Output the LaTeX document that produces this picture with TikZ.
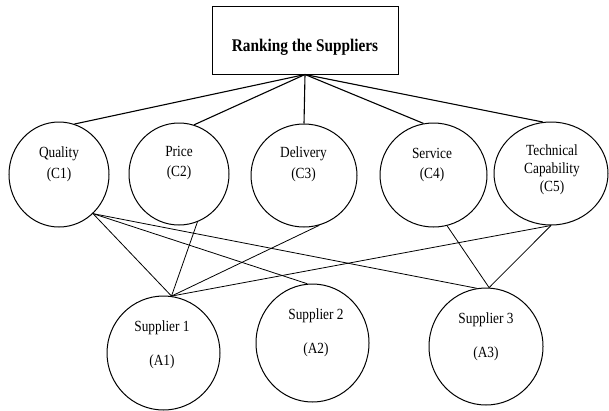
\documentclass[tikz,border=0pt]{standalone}
\usepackage{fontspec}
\setmainfont{Liberation Serif}[FakeStretch=0.86]
\usetikzlibrary{shapes.geometric}

\begin{document}
\begin{tikzpicture}[x=1pt, y=-1pt,
    crit/.style={ellipse, draw, line width=1pt, inner sep=0pt},
    lbl/.style={font=\fontsize{15.5}{18}\selectfont, align=center, inner sep=0pt},
    toplink/.style={line width=1.1pt},
    link/.style={line width=0.8pt}]
    \useasboundingbox (0,0) rectangle (609,410);

    % Goal
    \node[draw, line width=1pt, minimum width=186pt, minimum height=68pt] (goal) at (305,40) {};
    \node[font=\fontsize{17.8}{20}\selectfont\bfseries, inner sep=0pt] (goaltxt) at (305,47) {Ranking the Suppliers};

    % Criteria
    \node[crit, minimum width=100pt, minimum height=105pt] (c1) at (59,174.5) {};
    \node[crit, minimum width=100pt, minimum height=102pt] (c2) at (179,174) {};
    \node[crit, minimum width=106pt, minimum height=103pt] (c3) at (304,175.5) {};
    \node[crit, minimum width=107pt, minimum height=104pt] (c4) at (433.5,175) {};
    \node[crit, minimum width=114pt, minimum height=103pt] (c5) at (551,173.5) {};

    \node[lbl] (c1txt) at (59,164) {Quality\\[3pt](C1)};
    \node[lbl] (c2txt) at (179,163) {Price\\[2pt](C2)};
    \node[lbl] (c3txt) at (303.5,164) {Delivery\\[3pt](C3)};
    \node[lbl] (c4txt) at (432,165) {Service\\[2pt](C4)};
    \node[lbl] (c5txt) at (552,169.5) {Technical\\Capability\\(C5)};

    % Alternatives
    \node[crit, minimum width=113pt, minimum height=114pt] (a1) at (163.5,353) {};
    \node[crit, minimum width=113pt, minimum height=118pt] (a2) at (312.5,343) {};
    \node[crit, minimum width=114pt, minimum height=117pt] (a3) at (486,346.5) {};

    \node[lbl] (a1txt) at (162,345) {Supplier 1\\[16pt](A1)};
    \node[lbl] (a2txt) at (316,333) {Supplier 2\\[16pt](A2)};
    \node[lbl] (a3txt) at (486,336.5) {Supplier 3\\[16pt](A3)};

    % Goal to criteria
    \draw[toplink] (goal.south) -- (c1.73);
    \draw[toplink] (goal.south) -- (c2.73);
    \draw[toplink] (goal.south) -- (c3.north);
    \draw[toplink] (goal.south) -- (c4.101);
    \draw[toplink] (goal.south) -- (c5.99);

    % Criteria to alternatives
    \draw[link] (c1.-49) -- (a1.82);
    \draw[link] (c1.-49) -- (a2.95);
    \draw[link] (c1.-49) -- (a3.99);
    \draw[link] (c2.-69) -- (a1.82);
    \draw[link] (c3.-73) -- (a1.82);
    \draw[link] (c5.south) -- (a1.82);
    \draw[link] (c4.-75) -- (a3.87);
    \draw[link] (c5.south) -- (a3.87);

\end{tikzpicture}
\end{document}
